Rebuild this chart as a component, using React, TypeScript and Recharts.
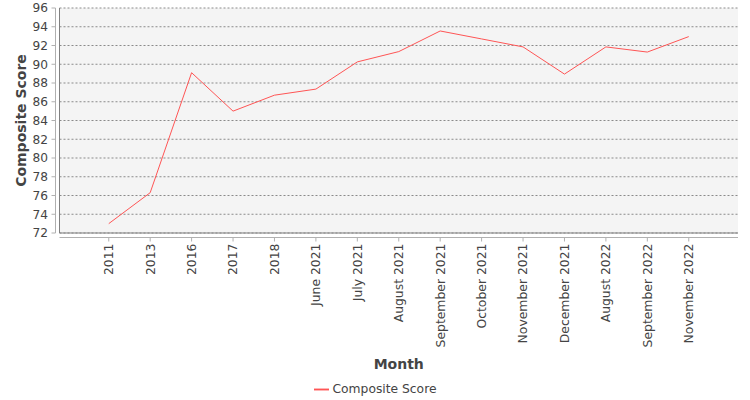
import React from "react";
import {
  CartesianGrid,
  Legend,
  Line,
  LineChart,
  XAxis,
  YAxis,
} from "recharts";

const months = [
  "2011",
  "2013",
  "2016",
  "2017",
  "2018",
  "June 2021",
  "July 2021",
  "August 2021",
  "September 2021",
  "October 2021",
  "November 2021",
  "December 2021",
  "August 2022",
  "September 2022",
  "November 2022",
];

const scores = [
  73.0, 76.3, 89.1, 85.0, 86.7, 87.35, 90.25, 91.35, 93.55, 92.7, 91.85,
  88.95, 91.85, 91.3, 92.95,
];

const yTicks = [72, 74, 76, 78, 80, 82, 84, 86, 88, 90, 92, 94, 96];

const data = months.map((month, i) => ({ month, score: scores[i] }));

const FONT = "'DejaVu Sans', Verdana, sans-serif";
const TEXT = "#444444";
const BORDER = "#808080";
const AXIS = "#b0b0b0";

function MonthTick(props: any) {
  const { x, y, payload } = props;
  return (
    <text
      x={x}
      y={y}
      transform={`rotate(-90, ${x}, ${y})`}
      textAnchor="end"
      dy="0.35em"
      fontSize={12.4}
      fontFamily={FONT}
      fill={TEXT}
    >
      {payload.value}
    </text>
  );
}

export default function App() {
  return (
    <div style={{ position: "absolute", left: 0, top: 0 }}>
      <LineChart
        width={750}
        height={400}
        data={data}
        margin={{ top: 8, right: 12, left: 0, bottom: 0 }}
      >
        <CartesianGrid
          xAxisId="main"
          yAxisId="main"
          vertical={false}
          fill="#f4f4f4"
          fillOpacity={1}
          stroke="#8a8a8a"
          strokeDasharray="2 2"
        />
        {/* plot frame: bottom / left / top / right */}
        <XAxis
          xAxisId="frame"
          dataKey="month"
          height={4.5}
          tick={false}
          tickLine={false}
          axisLine={{ stroke: BORDER }}
        />
        <XAxis
          xAxisId="main"
          dataKey="month"
          height={138.5}
          interval={0}
          padding={{ left: 49.25, right: 49.25 }}
          tickSize={4}
          tickMargin={2}
          tick={<MonthTick />}
          tickLine={{ stroke: AXIS }}
          axisLine={{ stroke: AXIS }}
          label={(p: any) => {
            const vb = p.viewBox;
            return (
              <text
                x={vb.x + vb.width / 2}
                y={vb.y + 126.5}
                textAnchor="middle"
                dominantBaseline="central"
                fontSize={14}
                fontWeight="bold"
                fontFamily={FONT}
                fill={TEXT}
              >
                Month
              </text>
            );
          }}
        />
        <XAxis
          xAxisId="top"
          orientation="top"
          dataKey="month"
          height={0}
          tick={false}
          tickLine={false}
          axisLine={{ stroke: BORDER }}
        />
        <YAxis
          yAxisId="frame"
          width={4}
          domain={[72, 96]}
          tick={false}
          tickLine={false}
          axisLine={{ stroke: BORDER }}
        />
        <YAxis
          yAxisId="main"
          width={55.5}
          domain={[72, 96]}
          ticks={yTicks}
          interval={0}
          tickSize={4}
          tickMargin={3.5}
          tick={{ fontSize: 12.2, fill: TEXT, fontFamily: FONT }}
          tickLine={{ stroke: AXIS }}
          axisLine={{ stroke: AXIS }}
          label={(p: any) => {
            const vb = p.viewBox;
            const cx = vb.x + 20.5;
            const cy = vb.y + vb.height / 2;
            return (
              <text
                x={cx}
                y={cy}
                transform={`rotate(-90, ${cx}, ${cy})`}
                textAnchor="middle"
                dominantBaseline="central"
                fontSize={14}
                fontWeight="bold"
                fontFamily={FONT}
                fill={TEXT}
              >
                Composite Score
              </text>
            );
          }}
        />
        <YAxis
          yAxisId="right"
          orientation="right"
          width={0}
          domain={[72, 96]}
          tick={false}
          tickLine={false}
          axisLine={{ stroke: BORDER }}
        />
        <Legend
          verticalAlign="bottom"
          iconSize={15}
          formatter={(value: any) => <span style={{ color: TEXT }}>{value}</span>}
          wrapperStyle={{
            left: 0,
            width: 750,
            height: 24,
            bottom: -6,
            paddingLeft: 10,
            boxSizing: "border-box",
            fontSize: 12.3,
            fontFamily: FONT,
            color: TEXT,
          }}
        />
        <Line
          xAxisId="main"
          yAxisId="main"
          type="linear"
          dataKey="score"
          name="Composite Score"
          stroke="#ff5555"
          strokeWidth={1}
          dot={false}
          legendType="plainline"
          isAnimationActive={false}
        />
      </LineChart>
    </div>
  );
}
